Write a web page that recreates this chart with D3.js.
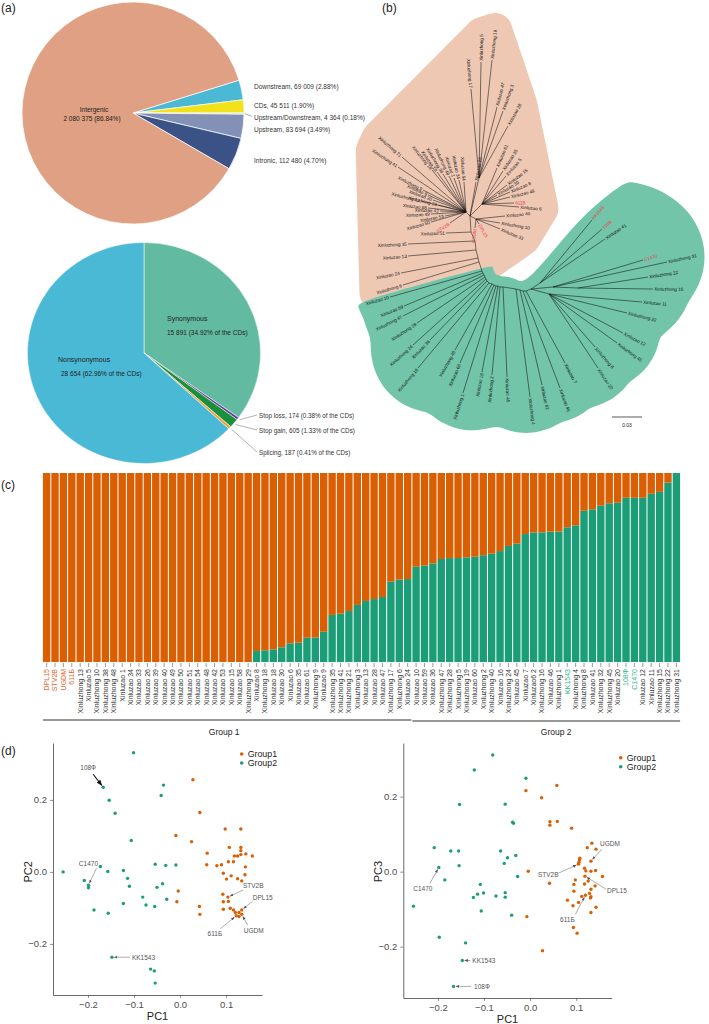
<!DOCTYPE html>
<html>
<head>
<meta charset="utf-8">
<script src="https://cdn.jsdelivr.net/npm/d3@7"></script>
<style>
  body { margin: 0; background: #fff; }
  svg text { font-family: "Liberation Sans", Arial, Helvetica, sans-serif; }
</style>
</head>
<body>
<div id="fig"></div>
<script>
// ---------- (a) variant annotation ----------
var regionNames = ["Downstream", "CDs", "Upstream/Downstream", "Upstream", "Intronic", "Intergenic"];
var regionCounts = [69009, 45511, 4364, 83694, 112480, 2080375];
var regionPcts = ["2.88", "1.90", "0.18", "3.49", "4.70", "86.84"];

var cdsNames = ["Synonymous", "Stop loss", "Stop gain", "Splicing", "Nonsynonymous"];
var cdsCounts = [15891, 174, 605, 187, 28654];
var cdsPcts = ["34.92", "0.38", "1.33", "0.41", "62.96"];

// ---------- (b) tree: internal nodes [id, parent, x, y] in substitutions/site ----------
var treeNodes = [
  ["H", null, 0, 0], ["T", "H", 0.009, -0.038], ["R1", "H", 0.012, -0.012],
  ["R2", "H", 0.006, 0.003], ["L", "H", -0.004, -0.004],
  ["k1", "H", 0.001, 0.016], ["k2", "k1", 0.005, 0.025], ["k3", "k2", 0.006, 0.034],
  ["k4", "k3", 0.008, 0.042], ["k5", "k4", 0.009, 0.046], ["B", "k5", 0.011, 0.052],
  ["a1", "B", 0.012, 0.055], ["a2", "a1", 0.013, 0.057], ["a3", "a2", 0.014, 0.059],
  ["a4", "a3", 0.015, 0.061], ["a5", "a4", 0.016, 0.063], ["a6", "a5", 0.017, 0.065],
  ["a7", "a6", 0.019, 0.067], ["a8", "a7", 0.022, 0.068], ["a9", "a8", 0.024, 0.069],
  ["a10", "a9", 0.026, 0.070], ["a11", "a10", 0.028, 0.070], ["a12", "a11", 0.030, 0.071],
  ["a13", "a12", 0.033, 0.071], ["a14", "a13", 0.046, 0.073], ["a15", "a14", 0.050, 0.074],
  ["a16", "a15", 0.053, 0.075], ["a17", "a16", 0.056, 0.075], ["N", "a17", 0.061, 0.073],
  ["n1", "N", 0.079, 0.078], ["n2", "N", 0.070, 0.067], ["n3", "N", 0.083, 0.071],
  ["n4", "n3", 0.108, 0.072]
];
// leaves [name, parent, x, y]
var leavesG1 = [
  ["Xinluzhong 17", "T", 0.001, -0.127], ["Xinluzhong 5", "T", 0.011, -0.154],
  ["Xinluzhong 19", "T", 0.022, -0.156], ["Xinluzao 47", "T", 0.027, -0.109],
  ["Xinluzhong 3", "T", 0.033, -0.105], ["Xinluzao 28", "T", 0.038, -0.090],
  ["Xinluzao 61", "R1", 0.027, -0.048], ["Xinluzao 35", "R1", 0.033, -0.045],
  ["Xinluzao 5", "R1", 0.036, -0.040], ["Xinluzao 15", "R1", 0.037, -0.031],
  ["Xinluzao 8", "R1", 0.040, -0.024], ["Xinluzao 39", "R1", 0.027, -0.021],
  ["Xinluzao 48", "R1", 0.040, -0.019], ["611Б", "R1", 0.044, -0.013],
  ["Xinluzao 6", "R1", 0.049, -0.009], ["Xinluzao 40", "R2", 0.035, 0.000],
  ["Xinluzhong 10", "R2", 0.030, 0.007], ["Xinluzao 33", "R2", 0.030, 0.013],
  ["DPL15", "R2", 0.009, 0.008], ["UGDM", "R2", 0.005, 0.012],
  ["Xinluzhong 21", "L", -0.068, -0.059], ["Xinluzhong 41", "L", -0.072, -0.049],
  ["Xinluzhong 18", "L", -0.038, -0.046], ["Xinluzao 18", "L", -0.033, -0.044],
  ["Xinluzhong 38", "L", -0.027, -0.042], ["Xinluzhong 48", "L", -0.021, -0.040],
  ["Xinluzao 1", "L", -0.016, -0.038], ["Xinluzao 34", "L", -0.011, -0.036],
  ["Xinluzao 54", "L", -0.006, -0.034], ["Xinluzao 26", "H", 0.006, -0.034],
  ["Xinluzhong 9", "L", -0.047, -0.026], ["Xinluzao 9", "L", -0.042, -0.021],
  ["Xinluzhong 13", "L", -0.049, -0.015], ["Xinluzao 30", "L", -0.037, -0.016],
  ["Xinluzhong 29", "L", -0.032, -0.011], ["Xinluzao 58", "L", -0.042, -0.008],
  ["Xinluzao 49", "L", -0.039, -0.002], ["Xinluzao 42", "L", -0.030, -0.005],
  ["Xinluzao 53", "L", -0.025, 0.000], ["Xinluzao 50", "L", -0.039, 0.006],
  ["STV2B", "L", -0.020, 0.007], ["Xinluzao 51", "k1", -0.024, 0.017],
  ["Xinluzhong 35", "k2", -0.062, 0.028], ["Xinluzao 13", "k3", -0.062, 0.040],
  ["Xinluzao 24", "k4", -0.069, 0.057], ["Xinluzhong 6", "k5", -0.067, 0.069]
];
var leavesG2 = [
  ["Xinluzao 10", "a1", -0.080, 0.081], ["Xinluzao 59", "a2", -0.066, 0.090],
  ["Xinluzhong 47", "a3", -0.067, 0.100], ["Xinluzhong 28", "a4", -0.053, 0.107],
  ["Xinluzhong 24", "a5", -0.057, 0.129], ["Xinluzao 36", "a6", -0.040, 0.124],
  ["Xinluzhong 16", "a7", -0.052, 0.152], ["Xinluzhong 40", "a8", -0.015, 0.134],
  ["Xinluzao 60", "a9", -0.010, 0.147], ["Xinluzhong 1", "a10", -0.007, 0.177],
  ["Xinluzao 16", "a11", 0.012, 0.156], ["Xinluzhong 2", "a12", 0.022, 0.159],
  ["Xinluzao 45", "a13", 0.037, 0.161], ["Xinluzhong 4", "a14", 0.060, 0.181],
  ["Xinluzao 62", "a15", 0.072, 0.169], ["Xinluzao 46", "a16", 0.090, 0.172],
  ["Xinluzao 7", "a17", 0.095, 0.147], ["Xinluzhong 8", "n1", 0.125, 0.131],
  ["Xinluzao 20", "n1", 0.128, 0.152], ["Xinluzhong 45", "n1", 0.147, 0.127],
  ["Xinluzao 12", "n1", 0.153, 0.117], ["Xinluzhong 32", "n1", 0.157, 0.097],
  ["Xinluzao 11", "n1", 0.172, 0.086], ["KK1543", "n2", 0.122, 0.004],
  ["108Ф", "n2", 0.132, 0.013], ["Xinluzao 41", "n2", 0.135, 0.023],
  ["C1470", "n3", 0.173, 0.044], ["Xinluzhong 31", "n3", 0.197, 0.046],
  ["Xinluzhong 22", "n4", 0.178, 0.061], ["Xinluzhong 15", "n4", 0.183, 0.073]
];
var redTaxa = ["STV2B", "DPL15", "UGDM", "611Б", "KK1543", "108Ф", "C1470"];
var treeScale = 0.03;

// ---------- (c) structure K=2 ----------
var samples = ["DPL15", "STV2B", "UGDM", "611Б", "Xinluzhong 13", "Xinluzao 5", "Xinluzhong 10",
  "Xinluzhong 38", "Xinluzhong 48", "Xinluzao 1", "Xinluzao 34", "Xinluzao 33", "Xinluzao 26",
  "Xinluzao 39", "Xinluzao 40", "Xinluzao 49", "Xinluzao 50", "Xinluzao 51", "Xinluzao 54",
  "Xinluzao 48", "Xinluzao 42", "Xinluzao 53", "Xinluzao 15", "Xinluzao 58", "Xinluzhong 29",
  "Xinluzao 8", "Xinluzhong 18", "Xinluzao 18", "Xinluzao 30", "Xinluzao 6", "Xinluzao 35",
  "Xinluzao 61", "Xinluzhong 9", "Xinluzao 9", "Xinluzhong 35", "Xinluzhong 41", "Xinluzhong 21",
  "Xinluzhong 3", "Xinluzao 13", "Xinluzao 28", "Xinluzao 47", "Xinluzhong 17", "Xinluzhong 6",
  "Xinluzao 24", "Xinluzao 10", "Xinluzao 59", "Xinluzao 36", "Xinluzhong 47", "Xinluzhong 28",
  "Xinluzhong 5", "Xinluzhong 19", "Xinluzao 60", "Xinluzhong 2", "Xinluzhong 40", "Xinluzao 16",
  "Xinluzhong 24", "Xinluzao 45", "Xinluzao 7", "Xinluzao6 2", "Xinluzhong 16", "Xinluzao 46",
  "Xinluzhong 1", "KK1543", "Xinluzhong 4", "Xinluzhong 8", "Xinluzao 41", "Xinluzhong 32",
  "Xinluzhong 45", "Xinluzao 20", "108Ф", "C1470", "Xinluzao 12", "Xinluzao 11",
  "Xinluzhong 15", "Xinluzhong 22", "Xinluzhong 31"];
// share of the green ancestral component (the rest is orange)
var q2 = [0, 0, 0, 0, 0, 0, 0, 0, 0, 0, 0, 0, 0, 0, 0, 0, 0, 0, 0, 0, 0, 0, 0, 0, 0,
  0.058, 0.062, 0.067, 0.078, 0.099, 0.102, 0.128, 0.13, 0.16, 0.249, 0.256, 0.27, 0.302,
  0.323, 0.333, 0.344, 0.425, 0.436, 0.439, 0.504, 0.51, 0.522, 0.545, 0.55, 0.55, 0.554,
  0.557, 0.565, 0.573, 0.587, 0.614, 0.626, 0.677, 0.686, 0.686, 0.69, 0.69, 0.713, 0.723,
  0.80, 0.808, 0.827, 0.84, 0.843, 0.869, 0.869, 0.869, 0.89, 0.90, 0.949, 1];
var groupSpans = [["Group 1", "DPL15", "Xinluzao 24"], ["Group 2", "Xinluzao 10", "Xinluzhong 31"]];
var refG1 = ["DPL15", "STV2B", "UGDM", "611Б"];
var refG2 = ["KK1543", "108Ф", "C1470"];

// ---------- (d) PCA ----------
var pc12G1 = [[0.028, 0.256], [0.043, 0.165], [-0.009, 0.101], [0.025, 0.084], [0.098, 0.119],
  [0.132, 0.119], [0.059, 0.052], [0.107, 0.068], [0.132, 0.068], [0.132, 0.059], [0.132, 0.048],
  [0.118, 0.044], [0.125, 0.044], [0.143, 0.050], [0.157, 0.044], [0.058, 0.020], [0.080, 0.017],
  [0.090, 0.020], [0.105, 0.028], [0.116, 0.028], [0.142, 0.014], [0.141, -0.008], [0.094, -0.004],
  [0.101, -0.020], [0.111, -0.011], [0.125, -0.019], [0.134, -0.025], [-0.004, -0.053],
  [-0.007, -0.083], [0.042, -0.096], [0.043, -0.118], [0.093, -0.062], [0.104, -0.070, "STV2B"],
  [0.094, -0.083], [0.105, -0.082], [0.094, -0.104], [0.109, -0.101], [0.120, -0.113],
  [0.122, -0.122, "611Б"], [0.128, -0.124], [0.134, -0.118, "UGDM"], [0.128, -0.113],
  [0.134, -0.106, "DPL15"], [0.116, -0.106]];
var pc12G2 = [[-0.101, 0.331], [-0.167, 0.235, "108Ф"], [-0.154, 0.199], [-0.141, 0.163],
  [-0.036, 0.241], [-0.041, 0.212], [-0.106, 0.087], [-0.254, 0.000], [-0.173, 0.015],
  [-0.208, -0.024], [-0.199, -0.037, "C1470"], [-0.199, -0.044], [-0.157, 0.001], [-0.123, 0.004],
  [-0.114, -0.018], [-0.110, -0.040], [-0.054, 0.021], [-0.031, 0.018], [-0.009, 0.019],
  [-0.038, -0.033], [-0.050, -0.043], [-0.081, -0.070], [-0.029, -0.076], [-0.074, -0.092],
  [-0.055, -0.096], [-0.123, -0.088], [-0.187, -0.106], [-0.156, -0.115], [-0.148, -0.237, "KK1543"],
  [-0.064, -0.270], [-0.056, -0.275], [-0.054, -0.309]];
var pc13G1 = [[-0.009, 0.216], [0.058, 0.230], [0.025, 0.197], [0.043, 0.133], [0.043, 0.124],
  [0.059, 0.134], [0.090, 0.116], [0.134, 0.076], [0.124, 0.064], [0.143, 0.060], [0.108, 0.036],
  [0.107, 0.031], [0.106, 0.025], [0.105, 0.020, "STV2B"], [0.132, 0.028, "UGDM"], [0.118, 0.009],
  [0.121, 0.002], [0.132, 0.001], [0.142, 0.003], [0.157, -0.013], [-0.004, 0.001], [0.042, -0.031],
  [0.098, -0.022], [0.119, -0.012, "DPL15"], [0.126, -0.025], [0.095, -0.034], [0.118, -0.033],
  [0.132, -0.047], [0.141, -0.038], [0.095, -0.052], [0.112, -0.066], [0.129, -0.058],
  [0.132, -0.067], [0.131, -0.070], [0.081, -0.076], [0.105, -0.082], [0.093, -0.091],
  [0.143, -0.095], [0.132, -0.109], [-0.007, -0.120], [0.094, -0.149], [0.102, -0.164],
  [0.027, -0.211], [0.120, -0.063, "611Б"]];
var pc13G2 = [[-0.081, 0.311], [-0.121, 0.271], [-0.009, 0.249], [-0.153, 0.179], [-0.054, 0.180],
  [-0.038, 0.132], [-0.036, 0.129], [-0.208, 0.064], [-0.172, 0.055], [-0.155, 0.055],
  [-0.154, 0.016], [-0.198, 0.011, "C1470"], [-0.185, -0.022], [-0.064, 0.055], [-0.049, 0.037],
  [-0.056, 0.022], [-0.031, 0.043], [-0.027, -0.013], [-0.108, -0.034], [-0.114, -0.060],
  [-0.101, -0.057], [-0.123, -0.069], [-0.074, -0.065], [-0.054, -0.056], [-0.054, -0.068],
  [-0.106, -0.105], [-0.040, -0.116], [-0.253, -0.092], [-0.197, -0.175], [-0.140, -0.190],
  [-0.147, -0.237, "KK1543"], [-0.166, -0.306, "108Ф"]];
var pcTicksX = [-0.2, -0.1, 0, 0.1];
var pcTicksY = [-0.2, 0, 0.2];

// ======================================================================
var ORANGE = "#d95f02", GREEN = "#1b9e77";
var svg = d3.select("#fig").append("svg").attr("width", 709).attr("height", 1024);
var num = d3.formatLocale({decimal: ".", thousands: " ", grouping: [3], currency: ["", ""]}).format(",");

function tag(t, x, y) {
  svg.append("text").attr("x", x).attr("y", y).attr("font-size", "12px").attr("fill", "#222").text(t);
}
tag("(a)", 1, 12); tag("(b)", 382, 12); tag("(c)", 1, 489); tag("(d)", 1, 755);

// ---------------- pie 1 ----------------
var pieA = svg.append("g").attr("transform", "translate(133,113)");
var tot1 = d3.sum(regionCounts);
var start1 = Math.PI / 2 - 2 * Math.PI * (regionCounts[0] + regionCounts[1]) / tot1;
var arcs1 = d3.pie().sort(null).startAngle(start1).endAngle(start1 + 2 * Math.PI)(regionCounts);
var colors1 = ["#4bb9d6", "#f1e21b", "#a9dccb", "#8491b7", "#3a5286", "#e0a083"];
pieA.selectAll("path").data(arcs1).enter().append("path")
    .attr("d", d3.arc().innerRadius(0).outerRadius(111))
    .attr("fill", function(d, i) { return colors1[i]; })
    .attr("stroke", "#fff").attr("stroke-width", 0.7);

var prevY = -1e9;
arcs1.slice(0, 5).forEach(function(d, i) {
    var m = (d.startAngle + d.endAngle) / 2;
    var y0 = -128 * Math.cos(m), y = Math.max(y0, prevY + 12);
    prevY = y;
    if (y - y0 > 1.5) {
        pieA.append("line")
            .attr("x1", 112 * Math.sin(m)).attr("y1", -112 * Math.cos(m))
            .attr("x2", 119).attr("y2", y - 1)
            .attr("stroke", "#555").attr("stroke-width", 0.5);
    }
    pieA.append("text").attr("x", 121).attr("y", y).attr("dy", "0.35em")
        .attr("font-size", "6.5px").attr("fill", "#333")
        .text(regionNames[i] + ", " + num(regionCounts[i]) + " (" + regionPcts[i] + "%)");
});
pieA.append("text").attr("x", -39).attr("y", -1.5).attr("text-anchor", "middle")
    .attr("font-size", "6.5px").attr("fill", "#222").text(regionNames[5]);
pieA.append("text").attr("x", -41).attr("y", 8).attr("text-anchor", "middle")
    .attr("font-size", "6.5px").attr("fill", "#222")
    .text(num(regionCounts[5]) + "  (" + regionPcts[5] + "%)");

// ---------------- pie 2 ----------------
var pieB = svg.append("g").attr("transform", "translate(144,353)");
var arcs2 = d3.pie().sort(null)(cdsCounts);
var colors2 = ["#62bba0", "#6a3d9a", "#1a8f3c", "#e8a33c", "#4ab9d6"];
var SX = 1.055, R2 = 110.5;
pieB.append("g").attr("transform", "scale(" + SX + ",1)")
    .selectAll("path").data(arcs2).enter().append("path")
    .attr("d", d3.arc().innerRadius(0).outerRadius(R2))
    .attr("fill", function(d, i) { return colors2[i]; })
    .attr("stroke", "#fff").attr("stroke-width", 0.5);
pieB.append("text").attr("x", 23).attr("y", -32).attr("font-size", "7px").attr("fill", "#222").text(cdsNames[0]);
pieB.append("text").attr("x", 23).attr("y", -18).attr("font-size", "6.5px").attr("fill", "#222")
    .text(num(cdsCounts[0]) + " (" + cdsPcts[0] + "% of the CDs)");
pieB.append("text").attr("x", -86).attr("y", 9).attr("font-size", "7px").attr("fill", "#222").text(cdsNames[4]);
pieB.append("text").attr("x", -83).attr("y", 23).attr("font-size", "6.5px").attr("fill", "#222")
    .text(num(cdsCounts[4]) + "  (" + cdsPcts[4] + "% of the CDs)");
var smallY = [63, 78, 100];
[1, 2, 3].forEach(function(i, k) {
    var d = arcs2[i], m = (d.startAngle + d.endAngle) / 2;
    pieB.append("line")
        .attr("x1", (R2 + 2) * Math.sin(m) * SX).attr("y1", -(R2 + 2) * Math.cos(m))
        .attr("x2", 113).attr("y2", smallY[k] - 1)
        .attr("stroke", "#555").attr("stroke-width", 0.45);
    pieB.append("text").attr("x", 115).attr("y", smallY[k]).attr("dy", "0.35em")
        .attr("font-size", "6.3px").attr("fill", "#333")
        .text(cdsNames[i] + ", " + num(cdsCounts[i]) + " (" + cdsPcts[i] + "% of the CDs)");
});

// ---------------- tree ----------------
var tx = d3.scaleLinear().domain([0, treeScale]).range([470, 500]);
var ty = d3.scaleLinear().domain([0, treeScale]).range([216, 246]);
var pos = {};
treeNodes.forEach(function(d) { pos[d[0]] = [tx(d[2]), ty(d[3])]; });
var tree = svg.append("g");
var blobLayer = tree.append("g");
var branchLayer = tree.append("g");
var labelLayer = tree.append("g");

treeNodes.forEach(function(d) {
    if (!d[1]) return;
    branchLayer.append("line")
        .attr("x1", pos[d[1]][0]).attr("y1", pos[d[1]][1])
        .attr("x2", pos[d[0]][0]).attr("y2", pos[d[0]][1]);
});

function drawLeaves(list) {
    return list.map(function(d) {
        var p = pos[d[1]], x = tx(d[2]), y = ty(d[3]);
        var dx = x - p[0], dy = y - p[1], L = Math.hypot(dx, dy), ux = dx / L, uy = dy / L;
        branchLayer.append("line").attr("x1", p[0]).attr("y1", p[1]).attr("x2", x).attr("y2", y);
        var ang = Math.atan2(uy, ux) * 180 / Math.PI, flip = ux < 0;
        var lx = x + ux * 1.2, ly = y + uy * 1.2;
        var t = labelLayer.append("text").attr("x", lx).attr("y", ly).attr("dy", "0.35em")
            .attr("text-anchor", flip ? "end" : "start")
            .attr("transform", "rotate(" + (flip ? ang + 180 : ang) + "," + lx + "," + ly + ")")
            .attr("font-size", "4.6px")
            .attr("fill", redTaxa.indexOf(d[0]) >= 0 ? "#e8384a" : "#111")
            .text(d[0]);
        var len = t.node().getComputedTextLength();
        return {name: d[0], tip: [x, y], end: [lx + ux * len, ly + uy * len], u: [ux, uy], p: p};
    });
}
var g1 = drawLeaves(leavesG1), g2 = drawLeaves(leavesG2);
branchLayer.selectAll("line").attr("stroke", "#111").attr("stroke-width", 0.55);

// pink blob: rounded padded hull of group 1
function padPts(pts, pad) {
    var out = [];
    pts.forEach(function(p) {
        for (var k = 0; k < 28; k++) {
            var a = k * Math.PI / 14;
            out.push([p[0] + pad * Math.cos(a), p[1] + pad * Math.sin(a)]);
        }
    });
    return out;
}
function resample(poly, step) {
    var out = [];
    poly.forEach(function(p, i) {
        var q = poly[(i + 1) % poly.length], L = Math.hypot(q[0] - p[0], q[1] - p[1]);
        var n = Math.max(1, Math.round(L / step));
        for (var k = 0; k < n; k++) out.push([p[0] + (q[0] - p[0]) * k / n, p[1] + (q[1] - p[1]) * k / n]);
    });
    return out;
}
var pinkPts = [];
g1.forEach(function(d) { pinkPts.push(d.end, d.tip); });
["H", "k1", "k2", "k3", "k4", "k5", "B"].forEach(function(k) { pinkPts.push(pos[k]); });
var pinkHull = resample(d3.polygonHull(padPts(pinkPts, 17)), 6);
blobLayer.append("path")
    .attr("d", d3.line().curve(d3.curveBasisClosed)(pinkHull))
    .attr("fill", "#efc8b4");

// green crescent: outer envelope around C plus inner edge along the backbone
var C = [tx(0.040), ty(0.044)];
var pol = [];
g2.forEach(function(d) {
    [d.end, d.tip].forEach(function(p) {
        pol.push({a: Math.atan2(p[1] - C[1], p[0] - C[0]), r: Math.hypot(p[0] - C[0], p[1] - C[1])});
    });
});
var aMin = d3.min(pol, function(d) { return d.a; }) - 0.08;
var aMax = d3.max(pol, function(d) { return d.a; }) + 0.04;
var outer = [];
for (var a = aMin; a <= aMax + 1e-6; a += 0.04) {
    var r = d3.max(pol, function(d) {
        var da = Math.abs(d.a - a);
        return da < 0.6 ? d.r * Math.pow(Math.cos(da), 2) : 0;
    });
    outer.push([C[0] + (r + 8) * Math.cos(a), C[1] + (r + 8) * Math.sin(a)]);
}
var inner = ["B", "a1", "a2", "a3", "a4", "a5", "a6", "a7", "a8", "a9", "a10", "a11", "a12",
    "a13", "a14", "a15", "a16", "a17", "N", "n2"].map(function(k) {
    var p = pos[k], dx = C[0] - p[0], dy = C[1] - p[1], L = Math.hypot(dx, dy);
    return [p[0] + 11 * dx / L, p[1] + 11 * dy / L];
});
var kk = g2.filter(function(d) { return d.name === "KK1543"; })[0];
[0.5, 1].forEach(function(t) {
    var x = kk.p[0] + (kk.tip[0] - kk.p[0]) * t, y = kk.p[1] + (kk.tip[1] - kk.p[1]) * t;
    inner.push([x + 10 * kk.u[1], y - 10 * kk.u[0]]);
});
blobLayer.append("path")
    .attr("d", d3.line().curve(d3.curveBasisClosed)(outer.concat(inner)))
    .attr("fill", "#72c5a9");

// scale bar
var sbx = tx(0.142), sby = ty(0.201);
tree.append("line").attr("x1", sbx).attr("x2", sbx + tx(treeScale) - tx(0))
    .attr("y1", sby).attr("y2", sby).attr("stroke", "#111").attr("stroke-width", 0.7);
tree.append("text").attr("x", sbx + (tx(treeScale) - tx(0)) / 2).attr("y", sby + 10)
    .attr("text-anchor", "middle").attr("font-size", "5px").attr("fill", "#222").text(treeScale);

// ---------------- structure bars ----------------
var xb = d3.scaleBand().domain(samples).range([42.5, 680.5]).paddingInner(0.12).paddingOuter(0.05);
var yb = d3.scaleLinear().domain([0, 1]).range([662, 473]);
var bars = svg.append("g");
bars.selectAll(".g").data(samples).enter().append("rect")
    .attr("x", function(d) { return xb(d); }).attr("width", xb.bandwidth())
    .attr("y", function(d, i) { return yb(q2[i]); })
    .attr("height", function(d, i) { return yb(0) - yb(q2[i]); })
    .attr("fill", GREEN);
bars.selectAll(".o").data(samples).enter().append("rect")
    .attr("x", function(d) { return xb(d); }).attr("width", xb.bandwidth())
    .attr("y", yb(1))
    .attr("height", function(d, i) { return yb(q2[i]) - yb(1); })
    .attr("fill", ORANGE);
bars.selectAll(".tk").data(samples).enter().append("line")
    .attr("x1", function(d) { return xb(d) + xb.bandwidth() / 2; })
    .attr("x2", function(d) { return xb(d) + xb.bandwidth() / 2; })
    .attr("y1", 663).attr("y2", 667).attr("stroke", "#555").attr("stroke-width", 0.6);
bars.selectAll(".lb").data(samples).enter().append("text")
    .attr("transform", function(d) { return "translate(" + (xb(d) + xb.bandwidth() / 2) + ",669) rotate(-90)"; })
    .attr("dy", "0.35em").attr("text-anchor", "end").attr("font-size", "7px")
    .attr("fill", function(d) { return refG1.indexOf(d) >= 0 ? "#e0662a" : refG2.indexOf(d) >= 0 ? "#2bb588" : "#333"; })
    .text(function(d) { return d; });
var groupNudge = [-3, 10];
groupSpans.forEach(function(g, i) {
    var x1 = xb(g[1]), x2 = xb(g[2]) + xb.bandwidth();
    bars.append("line").attr("x1", x1).attr("x2", x2).attr("y1", 720 + i).attr("y2", 720 + i)
        .attr("stroke", "#333").attr("stroke-width", 1.2);
    bars.append("text").attr("x", (x1 + x2) / 2 + groupNudge[i]).attr("y", 735).attr("text-anchor", "middle")
        .attr("font-size", "8.5px").attr("fill", "#222").text(g[0]);
});

// ---------------- PCA panels ----------------
var defs = svg.append("defs");
function marker(id, size, fill) {
    defs.append("marker").attr("id", id).attr("viewBox", "0 0 10 10").attr("refX", 9).attr("refY", 5)
        .attr("markerWidth", size).attr("markerHeight", size).attr("markerUnits", "userSpaceOnUse")
        .attr("orient", "auto").append("path").attr("d", "M0,1L10,5L0,9Z").attr("fill", fill);
}
marker("ah", 3.5, "#555"); marker("ahb", 6, "#111");

// [name, text dx, text dy, anchor, line start dx, line start dy, bold]
var notes12 = [["108Ф", -15, -17, "middle", -10, -13, true], ["C1470", 0, -19, "middle", 8, -17],
    ["STV2B", 15, -8.6, "start", 15, -7], ["DPL15", 11, -9.6, "start", 11, -9],
    ["UGDM", 2, 19, "start", 6, 11], ["611Б", -14, 20, "end", -16, 13], ["KK1543", 20, 2.3, "start", 18, 0]];
var notes13 = [["UGDM", 9, -15, "start", 11, -12], ["STV2B", -20, 13, "end", -20, 9],
    ["DPL15", 22, 17, "start", 21, 13], ["611Б", -18, 27, "middle", -10, 19],
    ["C1470", -16, 23, "middle", -9, 16], ["KK1543", 10, 2.5, "start", 8, 0],
    ["108Ф", 20.5, 2.5, "start", 17.5, 0]];

function pcaPanel(o) {
    var g = svg.append("g");
    var x = d3.scaleLinear().domain(o.xDom).range(o.xRange);
    var y = d3.scaleLinear().domain(o.yDom).range(o.yRange);
    var ax = g.append("g").attr("transform", "translate(0," + o.yRange[0] + ")")
        .call(d3.axisBottom(x).tickValues(pcTicksX).tickFormat(d3.format(".1f")).tickSize(3).tickSizeOuter(0));
    var ay = g.append("g").attr("transform", "translate(" + o.xRange[0] + ",0)")
        .call(d3.axisLeft(y).tickValues(pcTicksY).tickFormat(d3.format(".1f")).tickSize(3).tickSizeOuter(0));
    [ax, ay].forEach(function(a) {
        a.select(".domain").attr("stroke", "#444").attr("stroke-width", 0.8);
        a.selectAll(".tick line").attr("stroke", "#444").attr("stroke-width", 0.6);
        a.selectAll(".tick text").attr("font-size", "9.5px").attr("fill", "#4d4d4d")
            .attr("font-family", "'Liberation Sans', Arial, sans-serif");
    });
    g.append("text").attr("x", (o.xRange[0] + o.xRange[1]) / 2).attr("y", o.yRange[0] + 25)
        .attr("text-anchor", "middle").attr("font-size", "11px").attr("fill", "#222").text("PC1");
    g.append("text").attr("transform", "translate(" + (o.xRange[0] - 25) + "," + y(0) + ") rotate(-90)")
        .attr("text-anchor", "middle").attr("dy", "0.35em").attr("font-size", "11px").attr("fill", "#222").text(o.yTitle);
    [[o.g2, GREEN], [o.g1, ORANGE]].forEach(function(s) {
        g.selectAll(null).data(s[0]).enter().append("circle")
            .attr("cx", function(d) { return x(d[0]); }).attr("cy", function(d) { return y(d[1]); })
            .attr("r", 1.7).attr("fill", s[1]);
    });
    [["Group1", ORANGE], ["Group2", GREEN]].forEach(function(l, i) {
        g.append("circle").attr("cx", o.legend[0]).attr("cy", o.legend[1] + i * 9).attr("r", 1.8).attr("fill", l[1]);
        g.append("text").attr("x", o.legend[0] + 6).attr("y", o.legend[1] + i * 9).attr("dy", "0.35em")
            .attr("font-size", "8.8px").attr("fill", "#222").text(l[0]);
    });
    var named = {};
    o.g1.concat(o.g2).forEach(function(d) { if (d[2]) named[d[2]] = [x(d[0]), y(d[1])]; });
    o.notes.forEach(function(n) {
        var p = named[n[0]], sx = p[0] + n[4], sy = p[1] + n[5];
        var dx = p[0] - sx, dy = p[1] - sy, L = Math.hypot(dx, dy);
        g.append("line").attr("x1", sx).attr("y1", sy)
            .attr("x2", p[0] - 2.4 * dx / L).attr("y2", p[1] - 2.4 * dy / L)
            .attr("stroke", n[6] ? "#111" : "#666").attr("stroke-width", n[6] ? 1.1 : 0.55)
            .attr("marker-end", n[6] ? "url(#ahb)" : "url(#ah)");
        g.append("text").attr("x", p[0] + n[1]).attr("y", p[1] + n[2]).attr("text-anchor", n[3])
            .attr("font-size", "6.5px").attr("fill", "#555").text(n[0]);
    });
}
pcaPanel({xDom: [-0.276, 0.178], xRange: [53, 262], yDom: [-0.342, 0.358], yRange: [995, 743],
    g1: pc12G1, g2: pc12G2, notes: notes12, yTitle: "PC2", legend: [241.7, 754]});
pcaPanel({xDom: [-0.275, 0.177], xRange: [403.3, 611.7], yDom: [-0.337, 0.343], yRange: [998, 743],
    g1: pc13G1, g2: pc13G2, notes: notes13, yTitle: "PC3", legend: [620.7, 757.7]});
</script>
</body>
</html>
